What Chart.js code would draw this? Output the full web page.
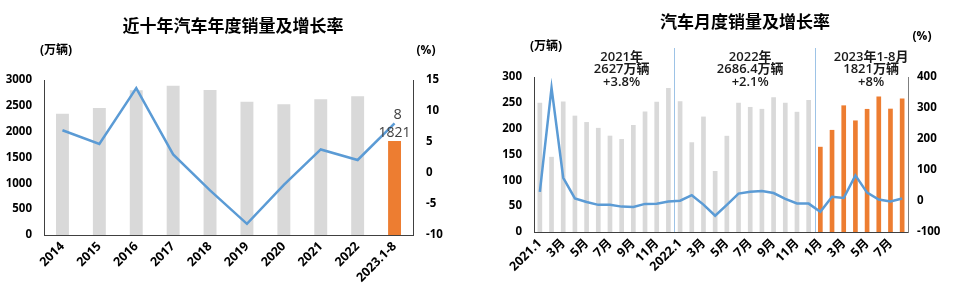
<!DOCTYPE html>
<html>
<head>
<meta charset="utf-8">
<script src="https://cdn.jsdelivr.net/npm/chart.js@4.4.0/dist/chart.umd.min.js"></script>
<style>
html,body{margin:0;padding:0;background:#fff;}
#wrap{position:relative;width:960px;height:286px;overflow:hidden;}
.box{position:absolute;top:0;width:480px;height:286px;}
</style>
</head>
<body>
<div id="wrap">
  <div class="box" style="left:0"><canvas id="c1" width="480" height="286"></canvas></div>
  <div class="box" style="left:480px"><canvas id="c2" width="480" height="286"></canvas></div>
</div>
<script>
// ---------- Annual data ----------
const years = ['2014','2015','2016','2017','2018','2019','2020','2021','2022','2023.1-8'];
const annualSales = [2349, 2460, 2803, 2888, 2808, 2577, 2531, 2627, 2686, 1821];
const annualGrowth = [6.9, 4.7, 13.7, 3.0, -2.8, -8.2, -1.9, 3.8, 2.1, 8];
const annualTicksLeft = [0, 3000, 500];
const annualTicksRight = [-10, 15, 5];

// ---------- Monthly data ----------
const months = ['2021.1','2月','3月','4月','5月','6月','7月','8月','9月','10月','11月','12月',
  '2022.1','2月','3月','4月','5月','6月','7月','8月','9月','10月','11月','12月',
  '1月','2月','3月','4月','5月','6月','7月','8月'];
const monthYear = [2021,2021,2021,2021,2021,2021,2021,2021,2021,2021,2021,2021,
  2022,2022,2022,2022,2022,2022,2022,2022,2022,2022,2022,2022,
  2023,2023,2023,2023,2023,2023,2023,2023];
const monthlySales = [250.3, 145.5, 252.6, 225.2, 212.8, 201.5, 186.4, 179.9, 207.1, 233.2, 252.2, 278.6,
  253.1, 173.7, 223.4, 118.1, 186.2, 250.2, 242.0, 238.3, 261.0, 250.3, 232.6, 255.6,
  164.9, 197.6, 245.1, 215.9, 238.2, 262.2, 238.7, 258.2];
const monthlyGrowth = [29.5, 364.8, 74.9, 8.6, -3.1, -12.4, -11.9, -18.1, -19.6, -9.4, -9.1, -1.6,
  0.9, 18.7, -11.7, -47.6, -12.6, 23.8, 29.7, 32.1, 25.7, 6.9, -7.9, -8.4,
  -35.0, 13.8, 9.7, 82.7, 26.9, 4.8, -1.4, 8.2];
const yearNotes = [
  ['2021年', '2627万辆', '+3.8%'],
  ['2022年', '2686.4万辆', '+2.1%'],
  ['2023年1-8月', '1821万辆', '+8%']
];

const GRAY = '#d9d9d9', ORANGE = '#ed7d31', BLUE = '#5b9bd5', AXIS = '#404040';
const CJK = '"Noto Sans CJK SC", sans-serif';
const FAM = '"Open Sans", "Noto Sans CJK SC", sans-serif';
Chart.defaults.font.family = FAM;
Chart.defaults.color = '#000';
Chart.defaults.animation = false;

const tickFont = {family: FAM, size: 11.5, weight: 'bold'};
const xTickFont = {family: FAM, size: 12.5, weight: 'bold'};
const plain = v => String(v);

function text(ctx, s, x, y, font, color, align) {
  ctx.save();
  ctx.font = font;
  ctx.fillStyle = color;
  ctx.textAlign = align || 'center';
  ctx.textBaseline = 'middle';
  ctx.fillText(s, x, y);
  ctx.restore();
}

// ---------- Chart 1 ----------
const deco1 = {
  id: 'deco1',
  afterDraw(chart) {
    const ctx = chart.ctx;
    text(ctx, '近十年汽车年度销量及增长率', 233, 26, 'bold 17px ' + CJK, '#000');
    text(ctx, '(万辆)', 56, 51, 'bold 12px ' + FAM, '#000');
    text(ctx, '(%)', 426, 51, 'bold 12px ' + FAM, '#000');
    const last = years.length - 1;
    const bar = chart.getDatasetMeta(1).data[last];
    const pt = chart.getDatasetMeta(0).data[last];
    text(ctx, String(annualSales[last]), bar.x, bar.y - 8, '14px ' + FAM, AXIS);
    text(ctx, String(annualGrowth[last]), pt.x + 3, pt.y - 9, '14.5px ' + FAM, AXIS);
  }
};

new Chart(document.getElementById('c1'), {
  data: {
    labels: years,
    datasets: [
      {type: 'line', data: annualGrowth, yAxisID: 'y1', borderColor: BLUE, borderWidth: 2.5,
       pointRadius: 0, tension: 0, order: 0},
      {type: 'bar', data: annualSales, yAxisID: 'y', order: 1,
       backgroundColor: c => c.dataIndex === years.length - 1 ? ORANGE : GRAY,
       barPercentage: 0.35, categoryPercentage: 1}
    ]
  },
  options: {
    responsive: false,
    layout: {padding: {top: 80, left: 0, right: 0, bottom: 0}},
    plugins: {legend: {display: false}, tooltip: {enabled: false}},
    scales: {
      x: {offset: true, grid: {display: false, drawTicks: false},
          border: {display: true, color: AXIS, width: 1},
          ticks: {font: xTickFont, color: '#000', minRotation: 45, maxRotation: 45, autoSkip: false, padding: 4},
          afterFit: s => { s.height = 51; }},
      y: {position: 'left', min: annualTicksLeft[0], max: annualTicksLeft[1],
          grid: {display: false, drawTicks: false},
          border: {display: true, color: AXIS, width: 1},
          ticks: {stepSize: annualTicksLeft[2], font: tickFont, color: '#000', padding: 12, callback: plain},
          afterFit: s => { s.width = 44; }},
      y1: {position: 'right', min: annualTicksRight[0], max: annualTicksRight[1],
          grid: {display: false, drawTicks: false},
          border: {display: true, color: AXIS, width: 1},
          ticks: {stepSize: annualTicksRight[2], font: tickFont, color: '#000', padding: 13, callback: plain},
          afterFit: s => { s.width = 67; }}
    }
  },
  plugins: [deco1]
});

// ---------- Chart 2 ----------
const deco2 = {
  id: 'deco2',
  beforeDatasetsDraw(chart) {
    const ctx = chart.ctx, x = chart.scales.x, area = chart.chartArea;
    ctx.save();
    ctx.strokeStyle = '#9dc3e6';
    ctx.lineWidth = 1;
    for (let i = 1; i < monthYear.length; i++) {
      if (monthYear[i] !== monthYear[i - 1]) {
        const px = Math.round((x.getPixelForValue(i - 1) + x.getPixelForValue(i)) / 2) + 0.5;
        ctx.beginPath();
        ctx.moveTo(px, 48);
        ctx.lineTo(px, area.bottom);
        ctx.stroke();
      }
    }
    ctx.restore();
  },
  afterDraw(chart) {
    const ctx = chart.ctx, x = chart.scales.x;
    text(ctx, '汽车月度销量及增长率', 265, 22, 'bold 17px ' + CJK, '#000');
    text(ctx, '(万辆)', 66, 47, 'bold 12px ' + FAM, '#000');
    text(ctx, '(%)', 442, 37, 'bold 12px ' + FAM, '#000');
    const centers = [7, 18, 28];
    const offs = [0, 0, 4];
    yearNotes.forEach((lines, k) => {
      const cx = x.getPixelForValue(centers[k]) + offs[k];
      lines.forEach((s, j) => text(ctx, s, cx, 57 + j * 12.5, '600 13px ' + FAM, '#1a1a1a'));
    });
  }
};

new Chart(document.getElementById('c2'), {
  data: {
    labels: months,
    datasets: [
      {type: 'line', data: monthlyGrowth, yAxisID: 'y1', borderColor: BLUE, borderWidth: 2.5,
       pointRadius: 0, tension: 0, order: 0},
      {type: 'bar', data: monthlySales, yAxisID: 'y', order: 1,
       backgroundColor: c => monthYear[c.dataIndex] === 2023 ? ORANGE : GRAY,
       barPercentage: 0.4, categoryPercentage: 1}
    ]
  },
  options: {
    responsive: false,
    layout: {padding: {top: 77, left: 0, right: 0, bottom: 0}},
    plugins: {legend: {display: false}, tooltip: {enabled: false}},
    scales: {
      x: {offset: true, grid: {display: false, drawTicks: false},
          border: {display: true, color: AXIS, width: 1},
          ticks: {font: xTickFont, color: '#000', minRotation: 45, maxRotation: 45, autoSkip: false, padding: 4,
                  callback: function(v, i) { return i % 2 === 0 ? this.getLabelForValue(v) : ''; }},
          afterFit: s => { s.height = 54; }},
      y: {position: 'left', min: 0, max: 300,
          grid: {display: false, drawTicks: false},
          border: {display: true, color: AXIS, width: 1},
          ticks: {stepSize: 50, font: tickFont, color: '#000', padding: 12, callback: plain},
          afterFit: s => { s.width = 54; }},
      y1: {position: 'right', min: -100, max: 400,
          grid: {display: false, drawTicks: false},
          border: {display: true, color: '#7f7f7f', width: 1},
          ticks: {stepSize: 50, font: tickFont, color: '#000', padding: 9, callback: plain},
          afterFit: s => { s.width = 52; }}
    }
  },
  plugins: [deco2]
});
</script>
</body>
</html>
